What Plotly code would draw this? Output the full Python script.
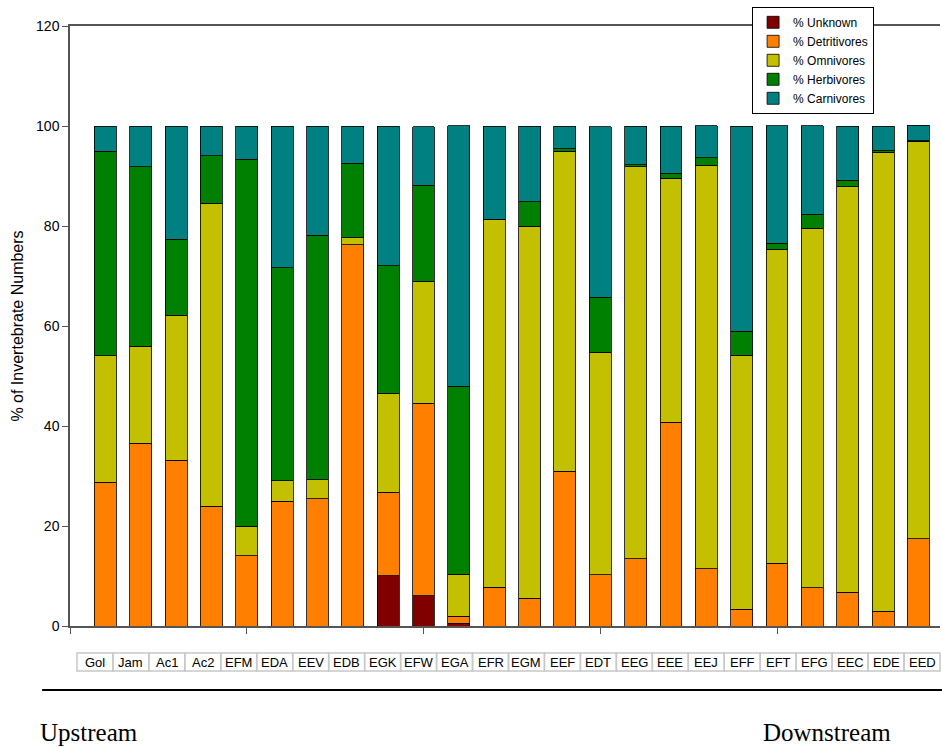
import plotly.graph_objects as go

sites = ["Gol", "Jam", "Ac1", "Ac2", "EFM", "EDA", "EEV", "EDB", "EGK", "EFW", "EGA", "EFR",
         "EGM", "EEF", "EDT", "EEG", "EEE", "EEJ", "EFF", "EFT", "EFG", "EEC", "EDE", "EED"]

unknown = [0, 0, 0, 0, 0, 0, 0, 0, 10.1, 6.1, 0.55, 0,
           0, 0, 0, 0, 0, 0, 0, 0, 0, 0, 0, 0]
detritivores = [28.8, 36.6, 33.2, 24.0, 14.1, 25.0, 25.5, 76.3, 16.7, 38.5, 1.4, 7.8,
                5.6, 31.0, 10.3, 13.5, 40.8, 11.5, 3.4, 12.6, 7.7, 6.8, 3.0, 17.5]
omnivores = [25.3, 19.4, 29.0, 60.6, 5.9, 4.1, 3.8, 1.4, 19.8, 24.4, 8.4, 73.6,
             74.4, 64.0, 44.5, 78.4, 48.8, 80.7, 50.8, 62.8, 71.9, 81.1, 91.8, 79.5]
herbivores = [40.9, 35.9, 15.2, 9.5, 73.4, 42.6, 48.9, 14.9, 25.5, 19.2, 37.6, 0.0,
              4.9, 0.5, 11.0, 0.4, 1.0, 1.5, 4.8, 1.2, 2.8, 1.3, 0.4, 0.1]
carnivores = [5.0, 8.1, 22.6, 5.9, 6.6, 28.3, 21.8, 7.4, 27.9, 11.7, 52.1, 18.6,
              15.1, 4.5, 34.1, 7.7, 9.4, 6.4, 41.0, 23.5, 17.7, 10.8, 4.8, 3.1]

series = [
    ("% Unknown", unknown, "#800000"),
    ("% Detritivores", detritivores, "#FF8000"),
    ("% Omnivores", omnivores, "#C2C000"),
    ("% Herbivores", herbivores, "#008000"),
    ("% Carnivores", carnivores, "#008080"),
]

xs = list(range(len(sites)))

fig = go.Figure()
for name, vals, col in series:
    fig.add_trace(go.Bar(
        x=xs, y=vals, name=name,
        marker=dict(color=col, line=dict(color="#000000", width=0.8)),
    ))

FONT = "Liberation Sans, Arial, sans-serif"

fig.update_layout(
    width=942, height=747,
    margin=dict(l=70, r=2, t=26, b=121),
    paper_bgcolor="white", plot_bgcolor="white",
    barmode="stack", bargap=0.38,
    font=dict(family=FONT, color="#000000"),
    showlegend=True,
    legend=dict(
        x=0.784, y=1.032, xanchor="left", yanchor="top",
        traceorder="normal",
        bordercolor="#000000", borderwidth=1, bgcolor="white",
        font=dict(size=12, family=FONT),
        tracegroupgap=0,
    ),
    xaxis=dict(
        range=[-1, 23.61],
        tickvals=[-1, 4, 9, 14, 19],
        showticklabels=False,
        ticks="outside", ticklen=6, tickcolor="#555555",
        showline=True, linecolor="#555555", linewidth=1.5, mirror=True,
        showgrid=False, zeroline=False,
    ),
    yaxis=dict(
        range=[0, 120], dtick=20,
        ticks="outside", ticklen=6, tickcolor="#555555",
        showline=True, linecolor="#555555", linewidth=1.5,
        showgrid=False, zeroline=False,
        tickfont=dict(size=14, family=FONT),
        title=dict(text="% of Invertebrate Numbers", font=dict(size=16, family=FONT), standoff=8),
    ),
)

# label "table" row under the axis
x0p, x1p = 0.008, 1.0
n = len(sites)
cw = (x1p - x0p) / n
cy0, cy1 = -0.075, -0.045
shapes = []
annotations = []
for i, s in enumerate(sites):
    a = x0p + i * cw
    shapes.append(dict(type="rect", xref="paper", yref="paper",
                       x0=a, x1=a + cw, y0=cy0, y1=cy1,
                       line=dict(color="#c8c8c8", width=1.5)))
    annotations.append(dict(text=s, xref="paper", yref="paper",
                            x=a + cw / 2, y=(cy0 + cy1) / 2,
                            xanchor="center", yanchor="middle", showarrow=False,
                            font=dict(size=13, family=FONT, color="#000000")))

shapes.append(dict(type="line", xref="paper", yref="paper",
                   x0=-0.032, x1=1.003, y0=-0.1067, y1=-0.1067,
                   line=dict(color="#000000", width=2)))

SERIF = "Liberation Serif, Times New Roman, serif"
annotations.append(dict(text="Upstream", xref="paper", yref="paper",
                        x=(89 - 70) / 870, y=-0.178, xanchor="center", yanchor="middle",
                        showarrow=False,
                        font=dict(size=25, family=SERIF, color="#000000")))
annotations.append(dict(text="Downstream", xref="paper", yref="paper",
                        x=(827 - 70) / 870, y=-0.178, xanchor="center", yanchor="middle",
                        showarrow=False,
                        font=dict(size=25, family=SERIF, color="#000000")))

fig.update_layout(shapes=shapes, annotations=annotations)

fig.write_html("out.html",
               config={"displayModeBar": False},
               post_script="document.body.style.margin='0';document.body.style.overflow='hidden';")
